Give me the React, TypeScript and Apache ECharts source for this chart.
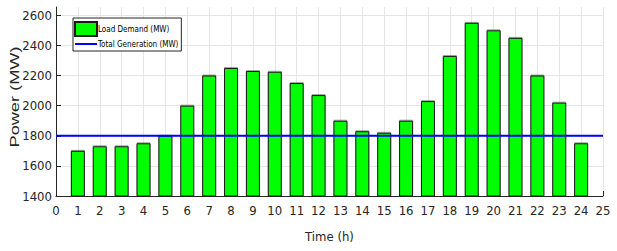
import React, { useEffect, useRef } from "react";
import * as echarts from "echarts";

const hours = [1, 2, 3, 4, 5, 6, 7, 8, 9, 10, 11, 12, 13, 14, 15, 16, 17, 18, 19, 20, 21, 22, 23, 24];
const loadDemand = [1700, 1730, 1730, 1750, 1800, 2000, 2200, 2250, 2230, 2225, 2150, 2070, 1900, 1830, 1820, 1900, 2030, 2330, 2550, 2500, 2450, 2200, 2020, 1750];
const generationHours = [0, 25];
const totalGeneration = [1800, 1800];

const NARROW = "'Liberation Sans Narrow', 'DejaVu Sans Condensed', 'Liberation Sans', sans-serif";

export default function App() {
  const ref = useRef<HTMLDivElement>(null);
  useEffect(() => {
    if (!ref.current) return;
    const chart = echarts.init(ref.current, undefined, { renderer: "svg" });
    chart.setOption({
      animation: false,
      backgroundColor: "#ffffff",
      grid: { left: 56, right: 14, top: 7, bottom: 55, containLabel: false },
      legend: {
        orient: "vertical",
        left: 73,
        top: 18,
        padding: [3, 3, 3, 1],
        itemGap: 3,
        itemWidth: 22,
        itemHeight: 14,
        borderColor: "#262626",
        borderWidth: 1,
        backgroundColor: "#ffffff",
        textStyle: { fontFamily: NARROW, fontSize: 8, color: "#000000", padding: [0, 0, 0, -4] },
        data: [
          { name: "Load Demand (MW)", icon: "rect" },
          {
            name: "Total Generation (MW)",
            icon: "path://M0,0 L22,0 L22,2 L0,2 Z",
            itemStyle: { color: "#0000ff", borderWidth: 0 },
          },
        ],
      },
      xAxis: {
        type: "value",
        min: 0,
        max: 25,
        interval: 1,
        axisLine: { show: true, lineStyle: { color: "#262626", width: 1 } },
        axisTick: { show: true, inside: true, length: 5, lineStyle: { color: "#262626" } },
        axisLabel: { fontFamily: NARROW, fontSize: 13, color: "#262626", margin: 8 },
        splitLine: { show: true, lineStyle: { color: "#e6e6e6", width: 1 } },
        name: "Time (h)",
        nameLocation: "middle",
        nameGap: 34,
        nameTextStyle: { fontFamily: NARROW, fontSize: 13, color: "#262626" },
      },
      yAxis: {
        type: "value",
        min: 1400,
        max: 2655,
        interval: 200,
        axisLine: { show: true, lineStyle: { color: "#262626", width: 1 } },
        axisTick: { show: true, inside: true, length: 5, lineStyle: { color: "#262626" } },
        axisLabel: {
          fontFamily: NARROW,
          fontSize: 13,
          color: "#262626",
          margin: 4,
          showMaxLabel: false,
          formatter: (v: number) => String(v),
        },
        splitLine: { show: true, showMaxLine: false, lineStyle: { color: "#e6e6e6", width: 1 } },
      },
      graphic: [
        {
          type: "text",
          x: 14,
          y: 97,
          rotation: Math.PI / 2,
          scaleX: 1.4,
          style: {
            text: "Power (MW)",
            fontFamily: "'Liberation Sans', Arial, sans-serif",
            fontSize: 13,
            fill: "#262626",
            align: "center",
            verticalAlign: "middle",
          },
        },
      ],
      series: [
        {
          name: "Load Demand (MW)",
          type: "bar",
          barWidth: 14,
          data: hours.map((h, i) => [h, loadDemand[i]]),
          itemStyle: {
            color: "#00ff00",
            borderColor: "#1a1a1a",
            borderWidth: 1,
            shadowColor: "rgba(0,0,0,0.35)",
            shadowOffsetX: 0,
            shadowOffsetY: -1,
            shadowBlur: 0,
          },
          z: 2,
        },
        {
          name: "Total Generation (MW)",
          type: "line",
          symbol: "none",
          data: generationHours.map((h, i) => [h, totalGeneration[i]]),
          lineStyle: { color: "#0000ff", width: 2 },
          itemStyle: { color: "#0000ff" },
          z: 3,
        },
      ],
    });
    return () => chart.dispose();
  }, []);
  return <div ref={ref} style={{ position: "fixed", left: 0, top: 0, width: 617, height: 251 }} />;
}
